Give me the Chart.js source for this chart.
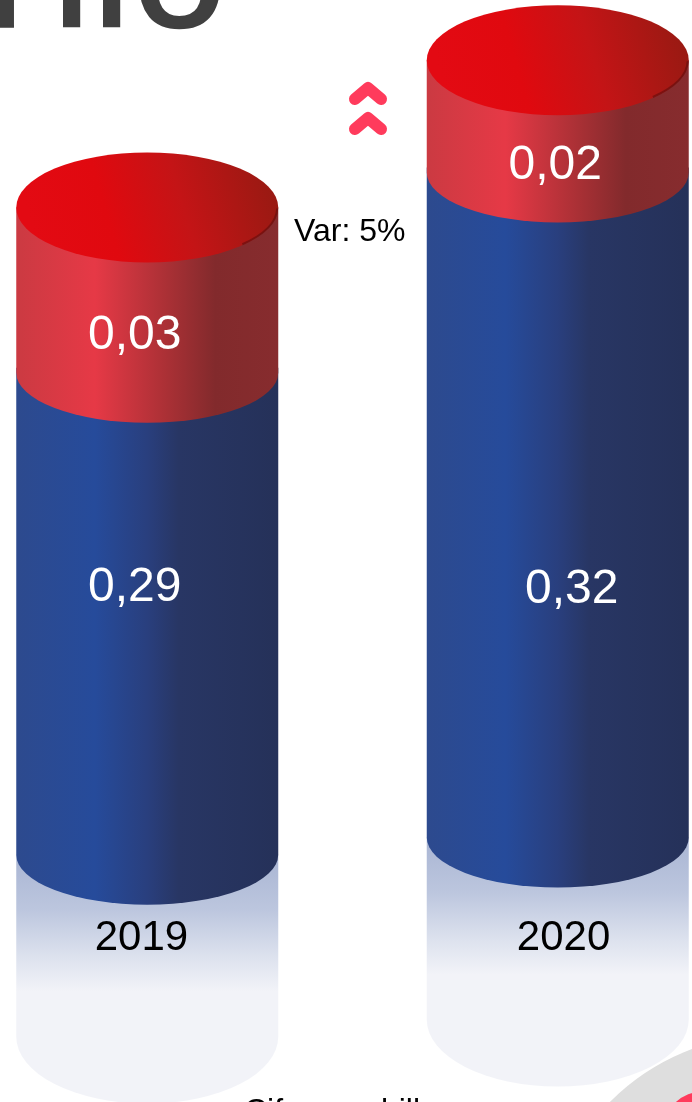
<!DOCTYPE html>
<html>
<head>
<meta charset="utf-8">
<style>
  html, body { margin: 0; padding: 0; background: #fff; overflow: hidden; width: 692px; height: 1102px; }
  canvas { display: block; position: absolute; left: -58px; top: 0; }
</style>
<script src="https://cdn.jsdelivr.net/npm/chart.js@4"></script>
</head>
<body>
<canvas id="cylinders" width="821" height="1102"></canvas>
<script>
// Values per year
const years = ['2019', '2020'];
const bluePart = [0.29, 0.32];
const redPart = [0.03, 0.02];
const partLabels = { blue: ['0,29', '0,32'], red: ['0,03', '0,02'] };
const variationNote = 'Var: 5%';
const unitNote = 'Cifras en billones';

// Each cylinder stands on its own truncated value axis
const valueAxes = [
  { id: 'y2019', min: 0.19981, max: 0.36912, base: 0.1998 },
  { id: 'y2020', min: 0.19271, max: 0.36150, base: 0.19589 }
];

// Fine placement of the value captions, relative to the middle of each segment
const captionNudge = {
  blue: [{ dx: -12.5, dy: -76 }, { dx: 14, dy: 35 }],
  red: [{ dx: -12.5, dy: -7 }, { dx: -2.5, dy: -3 }]
};

// The canvas hangs past the left page edge so the two cylinders get their spacing
const PAGE_X = 58;
const FONT = '"Liberation Sans", Arial, sans-serif';
const CAP_RY = 55;
const FOOT_RY = 50;
const MIRROR_DROP = 199;
const MIRROR_RY = 67;

function hGradient(ctx, x0, x1, stops) {
  const g = ctx.createLinearGradient(x0, 0, x1, 0);
  stops.forEach(([p, c]) => g.addColorStop(p, c));
  return g;
}

// Side wall: straight edges from the upper ellipse centre, rounded at the foot
function wall(ctx, el, topY, bottomY, fill) {
  const w = el.width / 2;
  ctx.beginPath();
  ctx.moveTo(el.x - w, topY);
  ctx.lineTo(el.x + w, topY);
  ctx.lineTo(el.x + w, bottomY - FOOT_RY);
  ctx.ellipse(el.x, bottomY - FOOT_RY, w, FOOT_RY, 0, 0, Math.PI);
  ctx.closePath();
  ctx.fillStyle = fill;
  ctx.fill();
}

function drawMirror(ctx, el) {
  const w = el.width / 2;
  const top = el.base - FOOT_RY;
  const bottom = el.base + MIRROR_DROP;
  const g = ctx.createLinearGradient(0, top, 0, el.base + 87);
  g.addColorStop(0, '#a9b5d3');
  g.addColorStop(0.4, '#bcc6de');
  g.addColorStop(0.75, '#dde2ee');
  g.addColorStop(1, '#f2f3f8');
  ctx.beginPath();
  ctx.moveTo(el.x - w, top);
  ctx.lineTo(el.x + w, top);
  ctx.lineTo(el.x + w, bottom - MIRROR_RY);
  ctx.ellipse(el.x, bottom - MIRROR_RY, w, MIRROR_RY, 0, 0, Math.PI);
  ctx.closePath();
  ctx.fillStyle = g;
  ctx.fill();
}

function drawCap(ctx, el) {
  const w = el.width / 2;
  const cy = el.y - CAP_RY;
  const g = ctx.createLinearGradient(el.x - w * 0.85, el.y - 20, el.x + w, el.y - 2 * CAP_RY + 20);
  g.addColorStop(0, '#e30a13');
  g.addColorStop(0.3, '#e0090f');
  g.addColorStop(0.6, '#c41416');
  g.addColorStop(1, '#951a12');
  ctx.beginPath();
  ctx.ellipse(el.x, cy, w, CAP_RY, 0, 0, Math.PI * 2);
  ctx.fillStyle = g;
  ctx.fill();
  // Shaded rim on the right of the lid
  ctx.beginPath();
  ctx.ellipse(el.x, cy, w - 1, CAP_RY - 1, 0, 0.02, 0.75);
  ctx.strokeStyle = 'rgba(90,12,12,0.55)';
  ctx.lineWidth = 2;
  ctx.stroke();
}

function drawChevron(ctx, x, y) {
  ctx.beginPath();
  ctx.moveTo(x - 13, y + 11);
  ctx.lineTo(x, y);
  ctx.lineTo(x + 13, y + 11);
  ctx.strokeStyle = '#ff3b5c';
  ctx.lineWidth = 12;
  ctx.lineCap = 'round';
  ctx.lineJoin = 'round';
  ctx.stroke();
}

const cylinderPlugin = {
  id: 'cylinders',
  beforeDraw(chart) {
    const ctx = chart.ctx;
    ctx.save();
    years.forEach((_, i) => {
      const el = chart.getDatasetMeta(i * 2).data[i];
      drawMirror(ctx, el);
    });
    ctx.restore();
  },
  afterDatasetsDraw(chart) {
    const ctx = chart.ctx;
    ctx.save();
    years.forEach((_, i) => {
      const blue = chart.getDatasetMeta(i * 2).data[i];
      const red = chart.getDatasetMeta(i * 2 + 1).data[i];
      const x0 = blue.x - blue.width / 2;
      const x1 = blue.x + blue.width / 2;
      wall(ctx, blue, blue.y - FOOT_RY - 5, blue.base, hGradient(ctx, x0, x1, [
        [0, '#2d4a8e'], [0.3, '#264b9b'], [0.5, '#293f7e'], [0.62, '#283664'], [1, '#253159']
      ]));
      wall(ctx, red, red.y - CAP_RY, red.base, hGradient(ctx, x0, x1, [
        [0, '#cb3a42'], [0.3, '#e63946'], [0.58, '#a93035'], [0.76, '#822a2c'], [1, '#872c2e']
      ]));
      drawCap(ctx, red);

      // Value captions
      ctx.fillStyle = '#ffffff';
      ctx.font = '48px ' + FONT;
      ctx.textAlign = 'center';
      ctx.textBaseline = 'middle';
      const rn = captionNudge.red[i];
      ctx.fillText(partLabels.red[i], red.x + rn.dx, (red.y + red.base) / 2 + rn.dy);
      const bn = captionNudge.blue[i];
      ctx.fillText(partLabels.blue[i], blue.x + bn.dx, (blue.y + blue.base) / 2 + bn.dy);
    });
    ctx.restore();
  },
  afterDraw(chart) {
    const ctx = chart.ctx;
    ctx.save();
    ctx.translate(PAGE_X, 0);

    // Heading, running off the top edge
    ctx.fillStyle = '#404040';
    ctx.strokeStyle = '#404040';
    ctx.lineWidth = 2.5;
    ctx.font = '167px ' + FONT;
    ctx.textAlign = 'left';
    ctx.textBaseline = 'alphabetic';
    ctx.fillText('T', -46, 26);
    ctx.strokeText('T', -46, 26);
    ctx.letterSpacing = '3px';
    ctx.fillText('llo', 53, 26);
    ctx.strokeText('llo', 53, 26);
    ctx.letterSpacing = '0px';

    // Variation marker between the cylinders
    drawChevron(ctx, 368, 88);
    drawChevron(ctx, 368, 118);
    ctx.fillStyle = '#000000';
    ctx.font = '32px ' + FONT;
    ctx.fillText(variationNote, 294, 241);

    // Unit note along the bottom edge
    ctx.font = '32px ' + FONT;
    ctx.fillText(unitNote, 244, 1121);

    // Corner ornament
    ctx.beginPath();
    ctx.arc(770, 1260, 225, 0, Math.PI * 2);
    ctx.fillStyle = '#dedede';
    ctx.fill();
    ctx.beginPath();
    ctx.arc(705, 1135, 44, 0, Math.PI * 2);
    ctx.fillStyle = '#ff3b5c';
    ctx.fill();
    ctx.restore();
  }
};

// Two stacked parts per year, each pair bound to that year's axis
const datasets = [];
years.forEach((year, i) => {
  const only = arr => arr.map((v, k) => (k === i ? v : null));
  datasets.push({
    label: 'Base ' + year, data: only(bluePart), yAxisID: valueAxes[i].id,
    base: valueAxes[i].base, backgroundColor: 'transparent', borderWidth: 0
  });
  datasets.push({
    label: 'Tope ' + year, data: only(redPart), yAxisID: valueAxes[i].id,
    backgroundColor: 'transparent', borderWidth: 0
  });
});

const scales = {
  x: {
    type: 'category',
    stacked: true,
    grid: { display: false, drawTicks: false },
    border: { display: false },
    ticks: {
      padding: 9,
      maxRotation: 0,
      autoSkip: false,
      color: '#000000',
      font: { family: FONT, size: 42 },
      // A padding space eases each year caption toward the outer side
      callback(value, index) { return index === 0 ? years[0] + ' ' : ' ' + years[index]; }
    }
  }
};
valueAxes.forEach(a => {
  scales[a.id] = { type: 'linear', display: false, stacked: true, min: a.min, max: a.max };
});

new Chart(document.getElementById('cylinders'), {
  type: 'bar',
  data: { labels: years, datasets },
  plugins: [cylinderPlugin],
  options: {
    responsive: false,
    animation: false,
    events: [],
    barThickness: 262,
    layout: { padding: { left: 0, right: 0, top: 0, bottom: 129 } },
    plugins: { legend: { display: false }, tooltip: { enabled: false }, title: { display: false } },
    scales
  }
});
</script>
</body>
</html>
